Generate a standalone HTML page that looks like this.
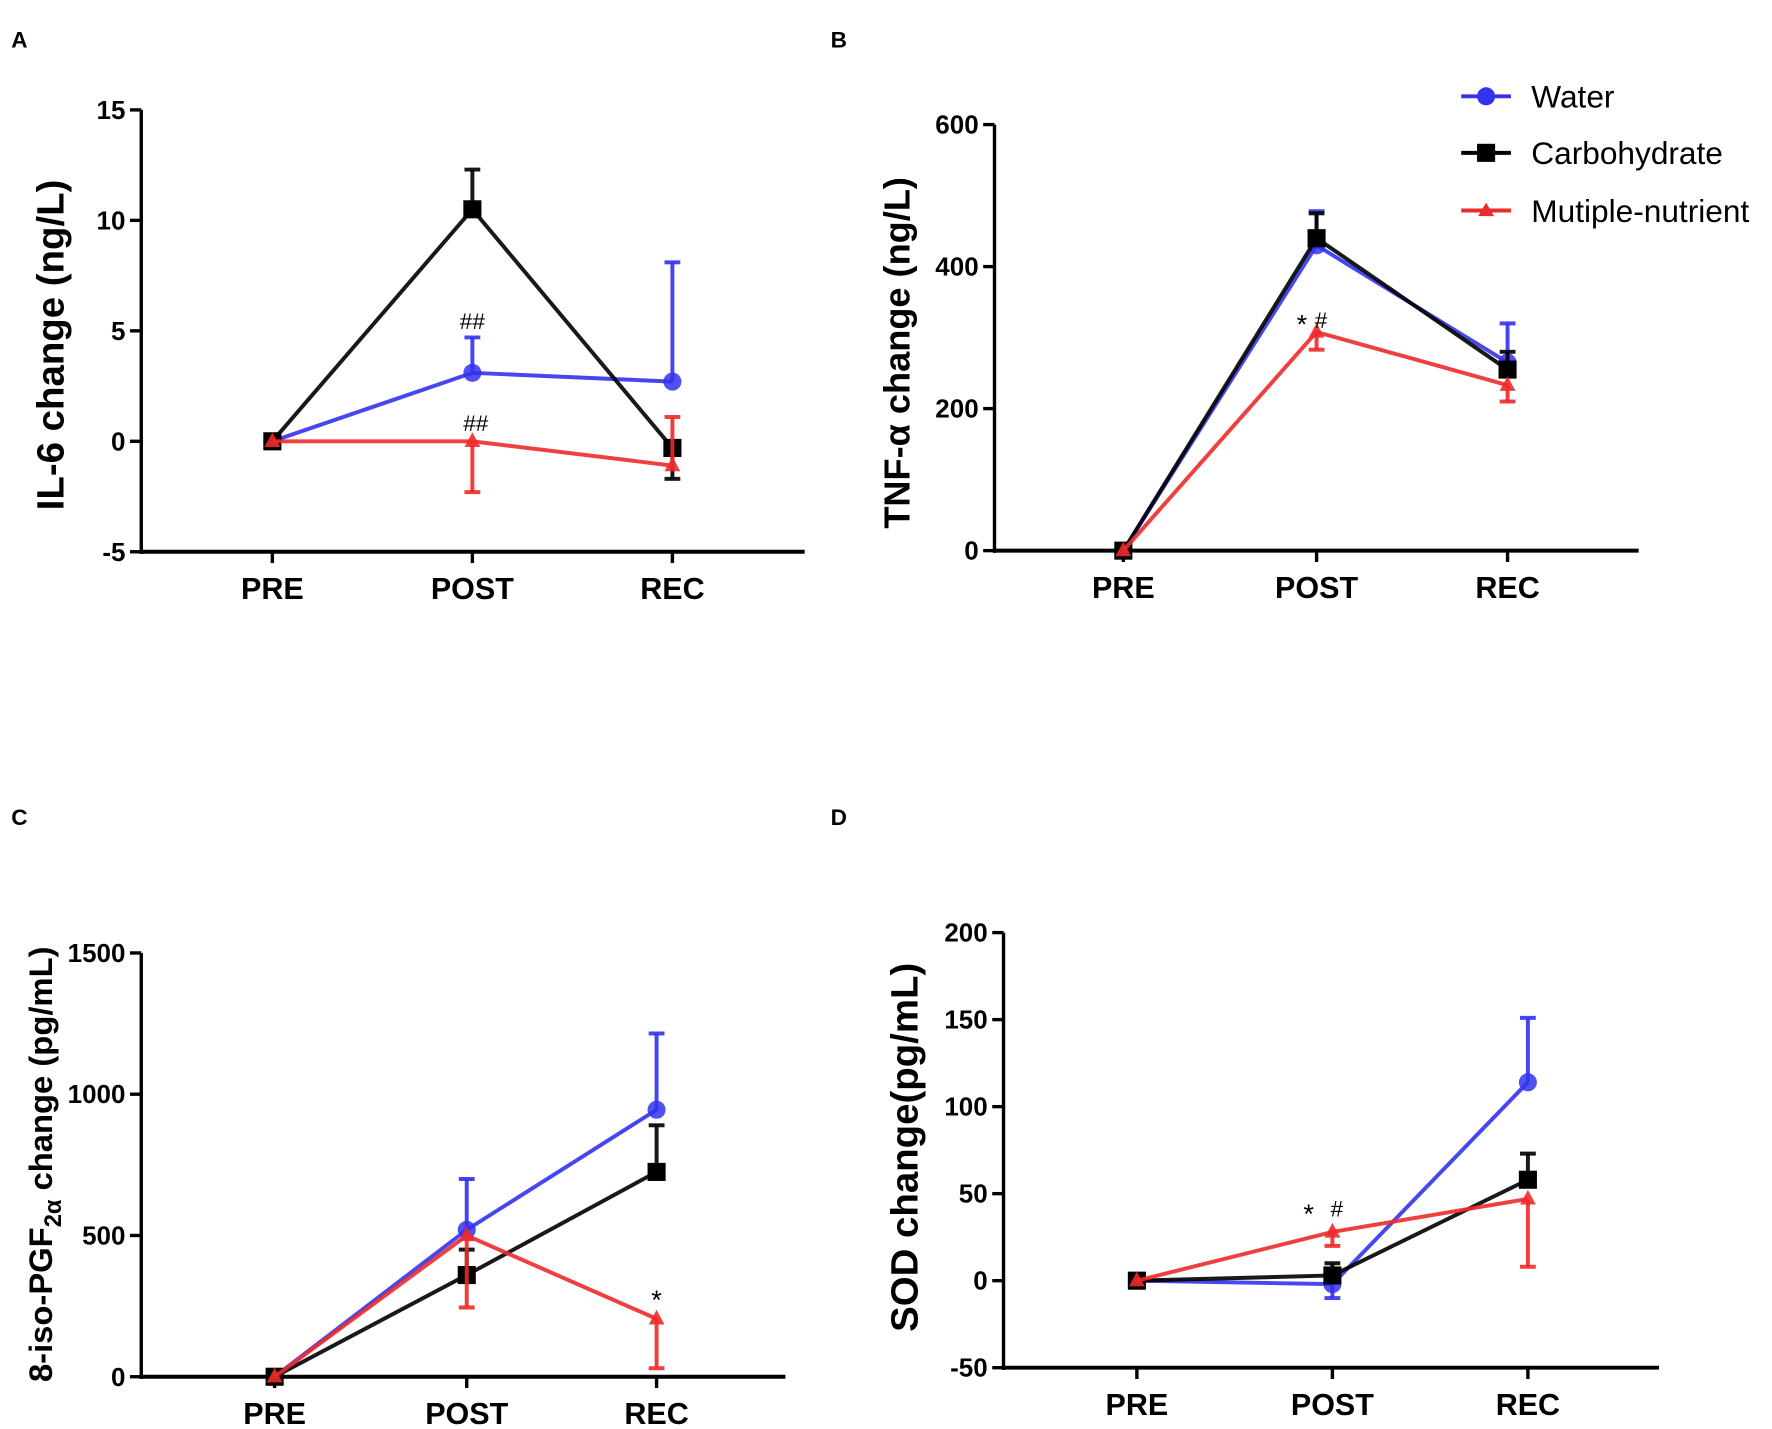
<!DOCTYPE html>
<html><head><meta charset="utf-8"><style>
html,body{margin:0;padding:0;background:#fff;}
svg{display:block;font-family:"Liberation Sans",Arial,sans-serif;}
</style></head><body>
<svg id="fig" width="1772" height="1429" viewBox="0 0 1568 1264"></svg>
<script>
const categories = ["PRE","POST","REC"];
const seriesNames = ["Water","Carbohydrate","Mutiple-nutrient"];
// Panel A IL-6
const aWater=[0,3.1,2.7], aWaterErr=[null,4.7,8.1];
const aCarb=[0,10.5,-0.3], aCarbErr=[null,12.3,-1.7];
const aMult=[0,0,-1.1], aMultErr=[null,-2.3,1.1];
const aTicks=[-5,0,5,10,15];
// Panel B TNF
const bWater=[0,430,265], bWaterErr=[null,478,320];
const bCarb=[0,440,255], bCarbErr=[null,475,280];
const bMult=[0,308,233], bMultErr=[null,283,210];
const bTicks=[0,200,400,600];
// Panel C 8-iso
const cWater=[0,520,945], cWaterErr=[null,700,1215];
const cCarb=[0,360,725], cCarbErr=[null,450,890];
const cMult=[0,500,205], cMultErr=[null,245,30];
const cTicks=[0,500,1000,1500];
// Panel D SOD
const dWater=[0,-2,114], dWaterErr=[null,-10,151];
const dCarb=[0,3,58], dCarbErr=[null,10,73];
const dMult=[0,28,47], dMultErr=[null,20,8];
const dTicks=[-50,0,50,100,150,200];

const NS="http://www.w3.org/2000/svg";
const svg=document.getElementById('fig');
function el(tag,attrs,parent,text){const e=document.createElementNS(NS,tag);for(const k in attrs)e.setAttribute(k,attrs[k]);if(text!==undefined)e.textContent=text;(parent||svg).appendChild(e);return e;}
const colors={w:"#3333ee",c:"#000000",m:"#ee2a2a"};

function panel(p){
  const g=el('g',{});
  
  
  const y=v=>p.y0+(v-p.vmin)/(p.vmax-p.vmin)*(p.y1-p.y0);
  const x=i=>p.xs[i];
  const lbl=el('text',{x:p.lx,y:p.ly,'font-size':20,'font-weight':'bold'},g,p.id);
  
  
  const ax=el('g',{},g);
  
  
  el('line',{x1:p.ax,y1:y(p.vmin)+2,x2:p.ax,y2:y(p.vmax),stroke:'#000','stroke-width':3},ax);
  p.ticks.forEach(t=>{
    el('line',{x1:p.ax-10,x2:p.ax,y1:y(t),y2:y(t),stroke:'#000','stroke-width':3},ax);
    const tl=el('text',{x:p.ax-14,y:y(t)+8,'text-anchor':'end','font-size':23,'font-weight':'bold'},ax,t);
    
    
  });
  const xa=el('g',{},g);
  
  
  const base=y(p.vmin);
  el('line',{x1:p.ax,y1:base,x2:p.xend,y2:base,stroke:'#000','stroke-width':3.5},xa);
  categories.forEach((c,i)=>{
    el('line',{x1:x(i),x2:x(i),y1:base,y2:base+10,stroke:'#000','stroke-width':3},xa);
    const t=el('text',{x:x(i),y:base+42,'text-anchor':'middle','font-size':27,'font-weight':'bold'},xa,c);
    
    
  });
  const tt=el('text',{transform:`translate(${p.tx},${p.ty}) rotate(-90)`,'text-anchor':'middle','font-size':p.tfs||34,'font-weight':'bold'},g);
  
  
  tt.innerHTML=p.title;
  const ser=[['w',p.w,p.we,'water'],['c',p.c,p.ce,'carbohydrate'],['m',p.m,p.me,'multiple-nutrient']];
  ser.forEach(([k,vals,errs,name])=>{
    const sg=el('g',{},g);
    
    
    const col=colors[k];
    vals.forEach((v,i)=>{ if(errs[i]!==null){
      el('line',{x1:x(i),x2:x(i),y1:y(v),y2:y(errs[i]),stroke:col,'stroke-width':3.5,opacity:0.9},sg);
      el('line',{x1:x(i)-7,x2:x(i)+7,y1:y(errs[i]),y2:y(errs[i]),stroke:col,'stroke-width':3.5,opacity:0.9},sg);
    }});
    el('polyline',{points:vals.map((v,i)=>x(i)+','+y(v)).join(' '),fill:'none',stroke:col,'stroke-width':3.5,opacity:0.9},sg);
    vals.forEach((v,i)=>{
      let m;
      if(k==='w') m=el('circle',{cx:x(i),cy:y(v),r:8,fill:col,opacity:0.85},sg);
      else if(k==='c') m=el('rect',{x:x(i)-8,y:y(v)-8,width:16,height:16,fill:col},sg);
      else m=el('polygon',{points:`${x(i)},${y(v)-8} ${x(i)-7},${y(v)+5} ${x(i)+7},${y(v)+5}`,fill:col,opacity:0.9},sg);
      
      
    });
  });
  (p.ann||[]).forEach(a=>{
    const t=el('text',{x:a[0],y:a[1],'text-anchor':'middle','font-size':a[3]||20},g,a[2]);
    
    
  });
}
panel({id:'A',lx:10,ly:42,ax:125,xend:712,y0:488,y1:97,vmin:-5,vmax:15,ticks:aTicks,xs:[241,418,595],
 w:aWater,we:aWaterErr,c:aCarb,ce:aCarbErr,m:aMult,me:aMultErr,title:'IL-6 change (ng/L)',tx:56,ty:305,
 ann:[[418,291,'##'],[421,381,'##']]});
panel({id:'B',lx:735,ly:42,ax:880,xend:1450,y0:487,y1:110,vmin:0,vmax:600,ticks:bTicks,xs:[994,1165,1334],
 w:bWater,we:bWaterErr,c:bCarb,ce:bCarbErr,m:bMult,me:bMultErr,title:'TNF-α change (ng/L)',tx:805,ty:312,tfs:32,
 ann:[[1152,295,'*',24],[1169,290,'#']]});
panel({id:'C',lx:10,ly:730,ax:125,xend:695,y0:1218,y1:843,vmin:0,vmax:1500,ticks:cTicks,xs:[243,413,581],
 w:cWater,we:cWaterErr,c:cCarb,ce:cCarbErr,m:cMult,me:cMultErr,title:'8-iso-PGF<tspan font-size="21" dy="8">2α</tspan><tspan dy="-8"> change (pg/mL)</tspan>',tx:46,ty:1030,tfs:29,
 ann:[[581,1158,'*',24]]});
panel({id:'D',lx:735,ly:730,ax:888,xend:1468,y0:1210,y1:825,vmin:-50,vmax:200,ticks:dTicks,xs:[1006,1179,1352],
 w:dWater,we:dWaterErr,c:dCarb,ce:dCarbErr,m:dMult,me:dMultErr,title:'SOD change(pg/mL)',tx:812,ty:1015,
 ann:[[1158,1082,'*',24],[1183,1076,'#']]});
const lg=el('g',{});


[['w',85],['c',135],['m',186]].forEach(([k,yy],i)=>{
  const e=el('g',{},lg);
  
  
  el('line',{x1:1293,x2:1337,y1:yy,y2:yy,stroke:colors[k],'stroke-width':3.5},e);
  if(k==='w') el('circle',{cx:1315,cy:yy,r:8,fill:colors[k]},e);
  else if(k==='c') el('rect',{x:1307,y:yy-8,width:16,height:16,fill:'#000'},e);
  else el('polygon',{points:`1315,${yy-7} 1308,${yy+5} 1322,${yy+5}`,fill:colors[k]},e);
  el('text',{x:1355,y:yy+10,'font-size':28},e,seriesNames[i]);
});
</script>
</body></html>
